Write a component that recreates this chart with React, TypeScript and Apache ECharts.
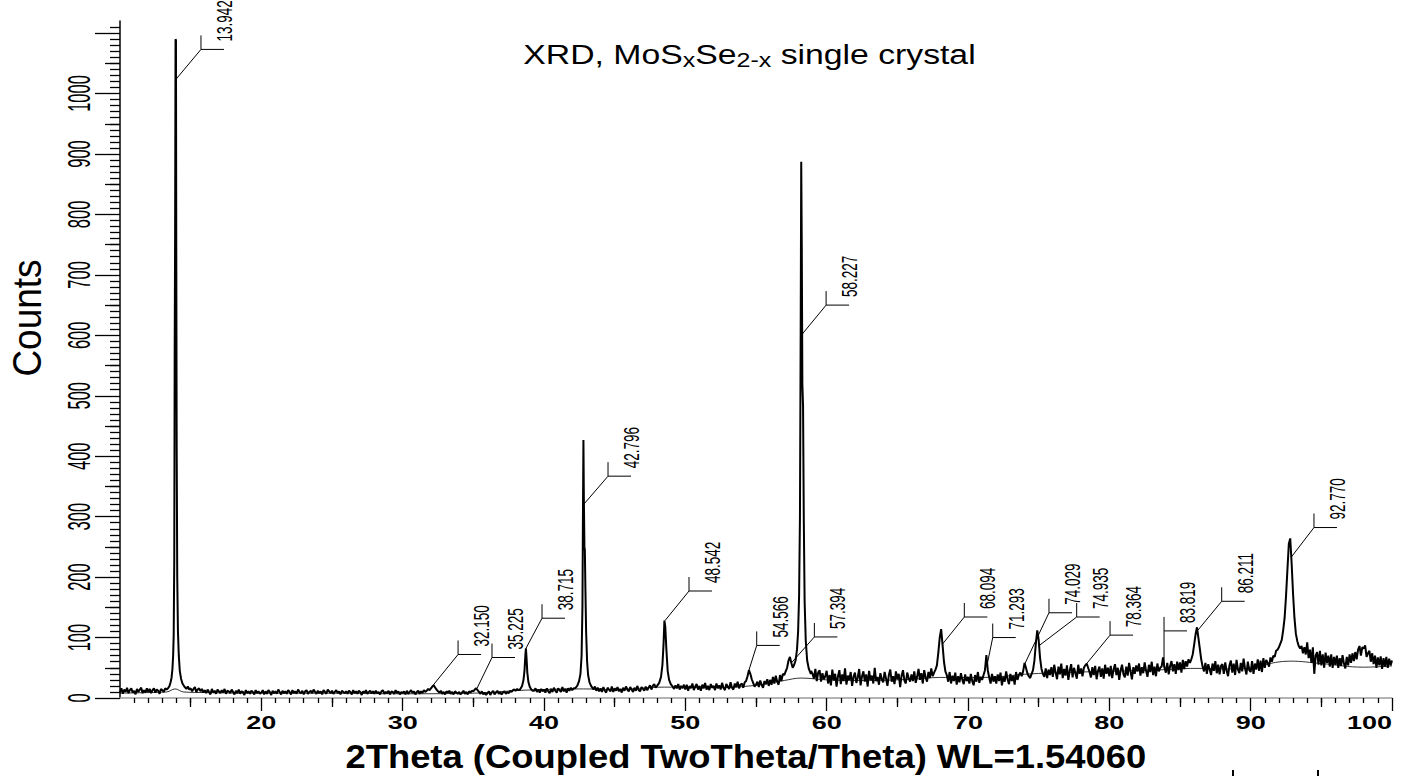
import React, { useEffect, useRef } from 'react';
import * as echarts from 'echarts';

// ---------- axes ----------
const X_MIN = 10;
const X_MAX = 100;
const Y_MIN = 0;
const Y_MAX = 1120;
const xMajorTicks = [20, 30, 40, 50, 60, 70, 80, 90, 100];
const xMidTicks = [15, 25, 35, 45, 55, 65, 75, 85, 95];
const xTickLabels = [20, 30, 40, 50, 60, 70, 80, 90, 100];
const yMajorTicks = [0, 100, 200, 300, 400, 500, 600, 700, 800, 900, 1000, 1100];
const yMidTicks = [50, 150, 250, 350, 450, 550, 650, 750, 850, 950, 1050];
const yTickLabels = [0, 100, 200, 300, 400, 500, 600, 700, 800, 900, 1000];

const bgStart = 10;
const bgStep = 0.1;
const bgCounts = [
  9, 16, 7, 14, 10, 17, 8, 13, 16, 9, 12, 6, 15, 10, 14, 17, 8, 13, 9, 16,
  10, 15, 8, 13, 16, 9, 14, 12, 7, 15, 13, 10, 16, 17, 20, 24, 32, 48, 80, 230,
  240, 110, 60, 40, 30, 24, 21, 17, 19, 14, 16, 11, 15, 18, 10, 14, 16, 11, 15, 9,
  13, 8, 14, 10, 6, 15, 9, 12, 7, 14, 11, 8, 13, 9, 15, 7, 12, 11, 8, 14,
  10, 6, 12, 8, 14, 7, 11, 10, 5, 13, 8, 11, 7, 12, 10, 6, 13, 8, 11, 7,
  9, 13, 6, 11, 7, 13, 10, 5, 12, 8, 11, 7, 14, 10, 6, 12, 8, 11, 7, 13,
  10, 6, 13, 8, 11, 7, 14, 10, 8, 12, 6, 11, 13, 7, 10, 12, 8, 14, 10, 7,
  12, 8, 11, 6, 13, 10, 7, 14, 11, 8, 12, 7, 10, 13, 8, 11, 6, 12, 10, 8,
  11, 7, 12, 10, 6, 13, 8, 11, 7, 12, 10, 5, 11, 8, 13, 7, 10, 12, 8, 11,
  7, 12, 8, 10, 6, 11, 13, 7, 10, 8, 12, 6, 11, 10, 7, 13, 8, 11, 6, 10,
  8, 11, 6, 12, 7, 10, 13, 8, 11, 6, 10, 12, 7, 11, 8, 13, 10, 12, 15, 13,
  16, 19, 21, 17, 14, 11, 9, 12, 7, 10, 6, 11, 9, 12, 7, 10, 6, 11, 9, 7,
  10, 6, 9, 12, 7, 10, 6, 11, 9, 12, 11, 14, 16, 13, 10, 7, 11, 6, 9, 5,
  8, 11, 5, 9, 12, 6, 9, 12, 7, 10, 6, 9, 11, 7, 10, 8, 12, 10, 13, 14,
  12, 15, 13, 17, 20, 30, 55, 82, 60, 30, 20, 16, 14, 12, 16, 10, 14, 9, 15, 11,
  14, 9, 16, 11, 8, 15, 10, 17, 12, 9, 16, 13, 10, 18, 11, 15, 9, 16, 12, 17,
  13, 16, 12, 18, 22, 30, 60, 200, 427, 245, 90, 40, 25, 20, 17, 14, 19, 12, 17, 11,
  16, 10, 18, 12, 9, 17, 14, 11, 19, 10, 16, 12, 18, 11, 15, 9, 17, 12, 19, 14,
  11, 18, 14, 10, 17, 12, 20, 13, 11, 18, 15, 12, 19, 13, 17, 21, 14, 20, 23, 17,
  20, 24, 30, 45, 80, 128, 90, 45, 28, 22, 18, 21, 15, 21, 16, 23, 14, 20, 16, 22,
  14, 22, 12, 20, 16, 24, 13, 19, 23, 14, 20, 12, 22, 16, 25, 14, 20, 13, 23, 17,
  20, 13, 24, 16, 21, 14, 25, 17, 13, 23, 19, 15, 26, 17, 14, 24, 18, 27, 16, 22,
  24, 17, 26, 28, 36, 46, 40, 31, 25, 19, 22, 27, 18, 29, 22, 17, 28, 23, 31, 20,
  30, 22, 35, 24, 37, 27, 22, 38, 28, 40, 38, 44, 50, 62, 68, 58, 50, 55, 62, 80,
  150, 887, 480, 140, 70, 50, 42, 38, 40, 45, 40, 32, 48, 28, 42, 46, 27, 41, 31, 36,
  45, 24, 38, 21, 47, 29, 40, 19, 36, 46, 23, 39, 28, 49, 22, 37, 30, 43, 20, 35,
  42, 25, 34, 48, 21, 36, 44, 27, 39, 19, 45, 30, 37, 24, 50, 28, 35, 22, 41, 31,
  26, 43, 32, 20, 38, 47, 27, 36, 23, 44, 31, 40, 18, 37, 46, 29, 24, 42, 33, 27,
  39, 28, 44, 25, 35, 48, 30, 41, 24, 46, 34, 27, 43, 33, 49, 36, 42, 47, 54, 75,
  100, 114, 88, 60, 44, 38, 27, 43, 24, 37, 28, 42, 22, 36, 26, 41, 30, 23, 39, 28,
  35, 24, 40, 28, 21, 38, 27, 43, 25, 35, 30, 38, 46, 71, 46, 34, 24, 40, 27, 36,
  24, 39, 28, 42, 21, 35, 27, 44, 31, 23, 40, 28, 37, 22, 43, 30, 38, 42, 36, 44,
  58, 50, 41, 36, 33, 40, 46, 62, 90, 112, 96, 66, 48, 40, 35, 49, 33, 47, 38, 51,
  35, 55, 42, 31, 52, 39, 57, 33, 48, 37, 54, 30, 45, 56, 34, 50, 41, 32, 55, 40,
  49, 36, 50, 54, 57, 50, 43, 34, 51, 38, 53, 31, 45, 52, 35, 49, 32, 55, 40, 50,
  36, 53, 33, 47, 56, 38, 50, 30, 46, 55, 39, 34, 52, 37, 58, 44, 31, 51, 40, 54,
  44, 57, 37, 51, 41, 59, 45, 35, 55, 43, 60, 38, 52, 36, 57, 44, 50, 52, 67, 50,
  42, 58, 39, 53, 61, 44, 56, 40, 60, 46, 59, 42, 63, 48, 61, 52, 64, 58, 64, 72,
  88, 105, 117, 100, 82, 64, 52, 44, 58, 40, 56, 47, 38, 57, 45, 61, 41, 55, 39, 53,
  56, 40, 59, 45, 36, 54, 62, 42, 57, 38, 63, 47, 41, 58, 44, 65, 49, 39, 60, 46,
  43, 61, 40, 57, 47, 64, 45, 62, 43, 66, 50, 63, 58, 52, 67, 60, 70, 68, 78, 80,
  84, 90, 96, 112, 132, 168, 212, 255, 264, 222, 172, 132, 106, 94, 86, 82, 86, 74, 84, 72,
  92, 66, 80, 58, 84, 40, 70, 76, 55, 78, 54, 72, 50, 75, 58, 70, 52, 72, 50, 68,
  55, 70, 50, 66, 53, 71, 57, 49, 68, 54, 72, 58, 74, 61, 76, 64, 80, 86, 70, 84,
  82, 87, 68, 74, 78, 60, 74, 56, 70, 50, 67, 54, 69, 48, 66, 52, 68, 50, 65, 54,
  62,
];

// finer profiles of the sharp reflections [2theta, counts]
const peak13942: [number, number][] = [
  [13.3, 14], [13.4, 16], [13.5, 20], [13.58, 26], [13.65, 34], [13.71, 48], [13.76, 70],
  [13.8, 105], [13.84, 230], [13.87, 583], [13.9, 770], [13.93, 1090], [13.96, 1088],
  [13.98, 760], [14.01, 420], [14.05, 200], [14.1, 110], [14.16, 70], [14.23, 45],
  [14.32, 32], [14.42, 24], [14.55, 19], [14.7, 15],
];
const peak38715: [number, number][] = [
  [38.3, 14], [38.45, 20], [38.55, 30], [38.62, 45], [38.68, 70], [38.72, 82], [38.76, 68],
  [38.82, 42], [38.9, 26], [39.0, 18], [39.1, 14], [39.2, 12],
];
const peak42796: [number, number][] = [
  [42.2, 16], [42.35, 20], [42.48, 28], [42.58, 40], [42.66, 70], [42.72, 150], [42.76, 320],
  [42.79, 427], [42.82, 330], [42.86, 250], [42.89, 245], [42.93, 180], [42.98, 110],
  [43.05, 60], [43.12, 38], [43.22, 26], [43.33, 20], [43.45, 16],
];
const peak48542: [number, number][] = [
  [48.0, 20], [48.15, 25], [48.28, 35], [48.38, 55], [48.46, 90], [48.52, 128], [48.58, 118],
  [48.66, 80], [48.75, 45], [48.85, 30], [48.97, 23], [49.1, 19],
];
const peak58227: [number, number][] = [
  [57.8, 62], [57.9, 80], [57.98, 110], [58.05, 170], [58.11, 300], [58.16, 600], [58.2, 887],
  [58.24, 742], [58.28, 520], [58.33, 482], [58.38, 300], [58.44, 160], [58.52, 95],
  [58.62, 62], [58.74, 48], [58.88, 40],
];
const peakProfiles = [peak13942, peak38715, peak42796, peak48542, peak58227];

// fitted background (thin line)
const fitX = [10, 12, 13.3, 13.9, 14.5, 16, 20, 25, 30, 35, 38.7, 42.8, 45, 48.5, 52, 55, 57, 58.2, 60, 63, 66, 68, 71, 74.5, 78, 83, 86.2, 89, 92.8, 95, 98, 100];
const fitY = [8, 9, 10, 15, 10, 9, 8, 8, 7, 8, 13, 15, 14, 18, 17, 21, 29, 33, 30, 29, 31, 34, 34, 40, 43, 46, 49, 48, 61, 57, 51, 53];

// peak markers
const peakLabels = ['13.942', '32.150', '35.225', '38.715', '42.796', '48.542', '54.566', '57.394', '58.227', '68.094', '71.293', '74.029', '74.935', '78.364', '83.819', '86.211', '92.770'];
const peakAt = [
  [13.94, 1023], [32.08, 19], [35.26, 16], [38.72, 82], [42.76, 319], [48.56, 128], [54.5, 46],
  [57.5, 58], [58.2, 600], [68.19, 89], [71.37, 57], [74.03, 57], [75.05, 87], [78.4, 57],
  [83.87, 51], [86.26, 112], [92.87, 233],
];
const elbowAt = [
  [15.73, 1073], [33.92, 72], [36.32, 67], [39.86, 132], [44.53, 367], [50.26, 177], [55.05, 87],
  [59.13, 101], [59.96, 650], [69.74, 134], [71.75, 100], [75.73, 141], [77.69, 134], [80.05, 104],
  [83.87, 111], [87.95, 160], [94.48, 282],
];

const FONT = '"Liberation Sans", Arial, Helvetica, sans-serif';

function buildPattern(): [number, number][] {
  const windows = peakProfiles.map((p) => [p[0][0], p[p.length - 1][0]]);
  const pts: [number, number][] = [];
  bgCounts.forEach((c, i) => {
    const x = Math.round((bgStart + i * bgStep) * 100) / 100;
    const inside = windows.some(([lo, hi]) => x >= lo - 1e-9 && x <= hi + 1e-9);
    if (!inside) pts.push([x, c]);
  });
  peakProfiles.forEach((p) => p.forEach((pt) => pts.push([pt[0], pt[1]])));
  pts.sort((a, b) => a[0] - b[0]);
  return pts;
}

function buildOption(): any {
  const tickStyle = { color: '#000', width: 1.3 };
  const pattern = buildPattern();
  const fit = fitX.map((x, i) => [x, fitY[i]]);
  const markerData = peakLabels.map((_, i) => [peakAt[i][0], peakAt[i][1], elbowAt[i][0], elbowAt[i][1]]);

  return {
    animation: false,
    backgroundColor: '#fff',
    grid: { left: 120, right: 13, top: 21, bottom: 78, containLabel: false, outerBoundsMode: 'none' },
    xAxis: [
      {
        type: 'value', min: X_MIN, max: X_MAX, interval: 10, position: 'bottom',
        axisLine: { show: true, onZero: false, lineStyle: { color: '#9a9a9a', width: 1.5 } },
        axisTick: { show: true, length: 13, customValues: xMajorTicks, lineStyle: tickStyle },
        minorTick: { show: true, splitNumber: 10, length: 5, lineStyle: tickStyle },
        axisLabel: { show: false }, splitLine: { show: false }, minorSplitLine: { show: false },
      },
      {
        type: 'value', min: X_MIN, max: X_MAX, interval: 5, position: 'bottom',
        axisLine: { show: false, onZero: false },
        axisTick: { show: true, length: 9, customValues: xMidTicks, lineStyle: tickStyle },
        axisLabel: { show: false }, splitLine: { show: false },
      },
    ],
    yAxis: [
      {
        type: 'value', min: Y_MIN, max: Y_MAX, interval: 100, position: 'left',
        axisLine: { show: true, onZero: false, lineStyle: { color: '#000', width: 1.5 } },
        axisTick: { show: true, length: 25, customValues: yMajorTicks, lineStyle: tickStyle },
        minorTick: { show: true, splitNumber: 10, length: 10, lineStyle: tickStyle },
        axisLabel: { show: false }, splitLine: { show: false }, minorSplitLine: { show: false },
      },
      {
        type: 'value', min: Y_MIN, max: Y_MAX, interval: 50, position: 'left',
        axisLine: { show: false, onZero: false },
        axisTick: { show: true, length: 15, customValues: yMidTicks, lineStyle: tickStyle },
        axisLabel: { show: false }, splitLine: { show: false },
      },
    ],
    series: [
      {
        type: 'line', xAxisIndex: 0, yAxisIndex: 0, data: fit, smooth: 0.4, showSymbol: false,
        lineStyle: { color: '#000', width: 0.8 }, silent: true, z: 2,
      },
      {
        type: 'line', xAxisIndex: 0, yAxisIndex: 0, data: pattern, showSymbol: false,
        lineStyle: { color: '#000', width: 2 }, silent: true, z: 3,
      },
      {
        type: 'custom', coordinateSystem: 'cartesian2d', xAxisIndex: 0, yAxisIndex: 0, clip: false,
        silent: true, z: 4, data: markerData,
        renderItem: (params: any, api: any) => {
          const i = params.dataIndex;
          const p = api.coord([api.value(0), api.value(1)]);
          const e = api.coord([api.value(2), api.value(3)]);
          return {
            type: 'group',
            children: [
              { type: 'polyline', shape: { points: [p, e, [e[0] + 23, e[1]]] }, style: { stroke: '#000', lineWidth: 1, fill: 'none' } },
              { type: 'line', shape: { x1: e[0], y1: e[1], x2: e[0], y2: e[1] - 14 }, style: { stroke: '#000', lineWidth: 1 } },
              {
                type: 'text', x: e[0] + 23, y: e[1] - 8, rotation: Math.PI / 2, scaleY: 1.7,
                style: { text: peakLabels[i], fill: '#000', fontSize: 13.5, fontFamily: FONT, align: 'left', verticalAlign: 'middle' },
              },
            ],
          };
        },
      },
      {
        type: 'custom', coordinateSystem: 'cartesian2d', xAxisIndex: 0, yAxisIndex: 0, clip: false,
        silent: true, z: 4, data: xTickLabels.map((v) => [v, Y_MIN]),
        renderItem: (params: any, api: any) => {
          const v = api.value(0);
          const p = api.coord([v, api.value(1)]);
          return {
            type: 'text', x: p[0], y: p[1] + 25, scaleX: 1.5,
            style: { text: String(v), fill: '#000', fontSize: 18, fontWeight: 'bold', fontFamily: FONT, align: v === X_MAX ? 'right' : 'center', verticalAlign: 'middle' },
          };
        },
      },
      {
        type: 'custom', coordinateSystem: 'cartesian2d', xAxisIndex: 0, yAxisIndex: 0, clip: false,
        silent: true, z: 4, data: yTickLabels.map((v) => [X_MIN, v]),
        renderItem: (params: any, api: any) => {
          const v = api.value(1);
          const p = api.coord([api.value(0), v]);
          return {
            type: 'text', x: p[0] - 41, y: p[1], rotation: Math.PI / 2, scaleY: 1.85,
            style: { text: String(v), fill: '#000', fontSize: 16.5, fontFamily: FONT, align: 'center', verticalAlign: 'middle' },
          };
        },
      },
    ],
    graphic: {
      elements: [
        {
          type: 'text', x: 749.5, y: 54, scaleX: 1.25, silent: true,
          style: {
            text: '{m|XRD, MoS}{s|x}{m|Se}{s|2-x}{m| single crystal}',
            fill: '#000', align: 'center', verticalAlign: 'middle',
            rich: {
              m: { fontSize: 27, fontFamily: FONT, lineHeight: 32, fill: '#000' },
              s: { fontSize: 20, fontFamily: FONT, lineHeight: 22, verticalAlign: 'bottom', fill: '#000' },
            },
          },
        },
        {
          type: 'text', x: 745.8, y: 756, scaleX: 1.07, silent: true,
          style: { text: '2Theta (Coupled TwoTheta/Theta) WL=1.54060', fill: '#000', fontSize: 34, fontWeight: 'bold', fontFamily: FONT, align: 'center', verticalAlign: 'middle' },
        },
        {
          type: 'text', x: 27, y: 318, rotation: Math.PI / 2, scaleY: 1.1, silent: true,
          style: { text: 'Counts', fill: '#000', fontSize: 37, fontFamily: FONT, align: 'center', verticalAlign: 'middle' },
        },
        { type: 'line', silent: true, shape: { x1: 1233, y1: 770, x2: 1233, y2: 776 }, style: { stroke: '#000', lineWidth: 2 } },
        { type: 'line', silent: true, shape: { x1: 1318, y1: 770, x2: 1318, y2: 776 }, style: { stroke: '#000', lineWidth: 2 } },
      ],
    },
  };
}

export default function App() {
  const ref = useRef<HTMLDivElement>(null);
  useEffect(() => {
    if (!ref.current) return;
    const chart = echarts.init(ref.current, null, { renderer: 'svg' });
    chart.setOption(buildOption());
    return () => chart.dispose();
  }, []);
  return (
    <div
      ref={ref}
      style={{ position: 'fixed', left: 0, top: 0, width: 1405, height: 776, background: '#fff' }}
    />
  );
}
